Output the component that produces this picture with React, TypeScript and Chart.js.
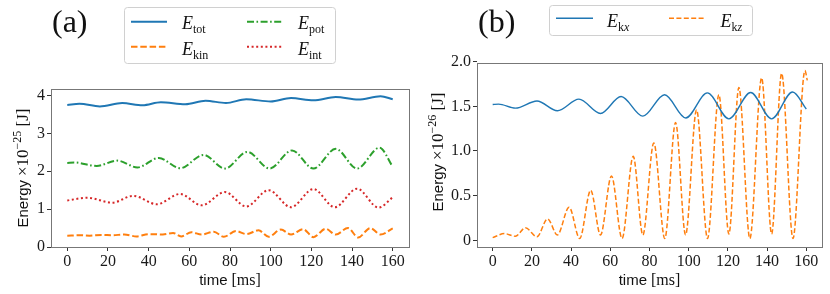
import React, { useEffect, useRef } from 'react';
import { Chart, registerables } from 'chart.js';
Chart.register(...registerables);

// ---------- shared ticks ----------
const timeTicks = [0, 20, 40, 60, 80, 100, 120, 140, 160];
const yTicksA = [0, 1, 2, 3, 4];
const yTickLabelsA = ['0', '1', '2', '3', '4'];
const yTicksB = [0, 0.5, 1, 1.5, 2];
const yTickLabelsB = ['0', '0.5', '1.0', '1.5', '2.0'];

// ---------- panel (a): energies ×1e-25 J ----------
const totT = [0, 6, 16, 27, 37, 46, 58, 68, 78, 88, 100, 110, 121, 132, 143, 154, 160];
const totE = [3.75, 3.78, 3.71, 3.8, 3.74, 3.82, 3.77, 3.86, 3.8, 3.9, 3.84, 3.93, 3.87, 3.96, 3.89, 3.98, 3.9];

const potT = [0, 3.5, 14.5, 24.5, 34.5, 45, 55.5, 67, 77.5, 88.5, 99.5, 110.5, 121, 132, 142.5, 153.5, 160];
const potE = [2.22, 2.23, 2.14, 2.28, 2.1, 2.35, 2.08, 2.43, 2.07, 2.51, 2.07, 2.55, 2.07, 2.59, 2.07, 2.62, 2.12];

const intT = [0, 10, 22, 32.5, 44, 55.5, 66, 77.5, 88, 99, 110, 121, 131.5, 142.5, 153, 160];
const intE = [1.23, 1.3, 1.17, 1.35, 1.13, 1.4, 1.1, 1.45, 1.07, 1.5, 1.05, 1.53, 1.05, 1.54, 1.04, 1.31];

const kinT = [0, 6, 11, 17, 22, 28, 34, 40, 47, 52, 56, 61, 66, 72, 77, 83, 88, 94, 99, 105, 110, 116, 121, 127, 132, 138, 143, 149, 154, 160];
const kinE = [0.3, 0.31, 0.3, 0.32, 0.31, 0.33, 0.28, 0.34, 0.33, 0.37, 0.28, 0.39, 0.33, 0.4, 0.27, 0.42, 0.34, 0.44, 0.27, 0.46, 0.33, 0.47, 0.26, 0.48, 0.33, 0.5, 0.25, 0.5, 0.33, 0.49];

// ---------- panel (b): energies ×1e-26 J ----------
const kxT = [0, 3, 11.6, 22.6, 33, 44, 55, 65.5, 76.6, 87.7, 98.5, 109.5, 120.5, 131.6, 142.3, 153, 160];
const kxE = [1.52, 1.525, 1.48, 1.56, 1.45, 1.58, 1.42, 1.61, 1.39, 1.63, 1.37, 1.65, 1.36, 1.655, 1.36, 1.66, 1.47];

const kzT = [0, 6, 11.6, 16.7, 22.6, 28, 33, 39, 44.4, 50, 55, 60.6, 66, 71.7, 76.6, 82.2, 87.8, 93.3, 98.4, 104, 109.6, 115.4, 120.5, 125.6, 131.2, 137.2, 142.3, 147.4, 153.2, 159.3, 160.5];
const kzE = [0.03, 0.075, 0.045, 0.14, 0.04, 0.24, 0.06, 0.37, 0.02, 0.56, 0.06, 0.72, 0.02, 0.94, 0.06, 1.09, 0.02, 1.32, 0.06, 1.46, 0.02, 1.63, 0.07, 1.71, 0.02, 1.82, 0.07, 1.87, 0.02, 1.9, 1.79];

const BLUE = '#1f77b4';
const ORANGE = '#ff7f0e';
const GREEN = '#2ca02c';
const RED = '#d62728';
const SERIF = '"Liberation Serif", "DejaVu Serif", serif';
const SANS = '"Liberation Sans", Arial, sans-serif';
const SPINE = '#777';

type Seg = { t: string; f: string; dy?: number };

function drawRich(ctx: CanvasRenderingContext2D, segs: Seg[], x: number, y: number, align: 'left' | 'center') {
  let w = 0;
  for (const s of segs) {
    ctx.font = s.f;
    w += ctx.measureText(s.t).width;
  }
  let cx = align === 'center' ? x - w / 2 : x;
  ctx.textAlign = 'left';
  ctx.textBaseline = 'alphabetic';
  for (const s of segs) {
    ctx.font = s.f;
    ctx.fillText(s.t, cx, y + (s.dy || 0));
    cx += ctx.measureText(s.t).width;
  }
}

function sampleLine(ctx: CanvasRenderingContext2D, x1: number, x2: number, y: number, color: string, dash: number[], lw: number) {
  ctx.save();
  ctx.strokeStyle = color;
  ctx.lineWidth = lw;
  ctx.setLineDash(dash);
  ctx.beginPath();
  ctx.moveTo(x1, y);
  ctx.lineTo(x2, y);
  ctx.stroke();
  ctx.restore();
}

function legendBox(ctx: CanvasRenderingContext2D, x: number, y: number, w: number, h: number) {
  ctx.save();
  ctx.fillStyle = 'rgba(255,255,255,0.8)';
  ctx.strokeStyle = '#d0d0d0';
  ctx.lineWidth = 1;
  ctx.beginPath();
  (ctx as any).roundRect(x + 0.5, y + 0.5, w, h, 3);
  ctx.fill();
  ctx.stroke();
  ctx.restore();
}

const eLabel = (sub: Seg[]): Seg[] => [{ t: 'E', f: `italic 18px ${SERIF}` }, ...sub];

function toXY(ts: number[], vs: number[]) {
  return ts.map((t, i) => ({ x: t, y: vs[i] }));
}

function yTitle(exp: string): Seg[] {
  return [
    { t: 'Energy', f: `15px ${SANS}` },
    { t: ' ', f: `16px ${SERIF}` },
    { t: '×', f: `17px ${SERIF}` },
    { t: '10', f: `17px ${SERIF}` },
    { t: exp, f: `12px ${SERIF}`, dy: -7 },
    { t: ' [J]', f: `17px ${SERIF}` },
  ];
}

function baseOptions(yMin: number, yMax: number, yTicks: number[], yLabels: string[], padding: any, yWidth: number) {
  return {
    animation: false as const,
    responsive: false,
    devicePixelRatio: 1,
    layout: { padding },
    plugins: { legend: { display: false }, tooltip: { enabled: false } },
    elements: { point: { radius: 0 } },
    scales: {
      x: {
        type: 'linear' as const,
        min: -8,
        max: 168,
        afterBuildTicks: (s: any) => {
          s.ticks = timeTicks.map((v) => ({ value: v }));
        },
        afterFit: (s: any) => {
          s.height = 47;
        },
        grid: { drawOnChartArea: false, drawTicks: true, tickLength: 4, tickColor: '#333', tickWidth: 1 },
        border: { display: false },
        ticks: {
          font: { family: SERIF, size: 16 },
          color: '#1a1a1a',
          padding: 1,
          maxRotation: 0,
          autoSkip: false,
          callback: (v: any) => String(v),
        },
      },
      y: {
        type: 'linear' as const,
        min: yMin,
        max: yMax,
        afterBuildTicks: (s: any) => {
          s.ticks = yTicks.map((v) => ({ value: v }));
        },
        afterFit: (s: any) => {
          s.width = yWidth;
        },
        grid: { drawOnChartArea: false, drawTicks: true, tickLength: 4, tickColor: '#333', tickWidth: 1 },
        border: { display: false },
        ticks: {
          font: { family: SERIF, size: 16 },
          color: '#1a1a1a',
          padding: 2,
          autoSkip: false,
          callback: (v: any) => {
            const i = yTicks.indexOf(Number(v));
            return i >= 0 ? yLabels[i] : '';
          },
        },
      },
    },
  };
}

function framePlugin(extra: (ctx: CanvasRenderingContext2D, chart: any) => void) {
  return {
    id: 'frameAndText',
    afterDraw(chart: any) {
      const ctx: CanvasRenderingContext2D = chart.ctx;
      const a = chart.chartArea;
      ctx.save();
      ctx.strokeStyle = SPINE;
      ctx.lineWidth = 1;
      ctx.setLineDash([]);
      ctx.strokeRect(Math.round(a.left) + 0.5, Math.round(a.top) + 0.5, Math.round(a.right - a.left), Math.round(a.bottom - a.top));
      ctx.fillStyle = '#111';
      extra(ctx, chart);
      ctx.restore();
    },
  };
}

function PanelA() {
  const ref = useRef<HTMLCanvasElement>(null);
  useEffect(() => {
    const chart = new Chart(ref.current!, {
      type: 'line',
      data: {
        datasets: [
          { data: toXY(totT, totE), borderColor: BLUE, borderWidth: 2, cubicInterpolationMode: 'monotone' },
          { data: toXY(kinT, kinE), borderColor: ORANGE, borderWidth: 2, borderDash: [6.5, 2.8], cubicInterpolationMode: 'monotone' },
          { data: toXY(potT, potE), borderColor: GREEN, borderWidth: 2, borderDash: [7, 2.5, 1.6, 2.5], cubicInterpolationMode: 'monotone' },
          { data: toXY(intT, intE), borderColor: RED, borderWidth: 2, borderDash: [2, 2.6], cubicInterpolationMode: 'monotone' },
        ],
      },
      options: baseOptions(0, 4.17, yTicksA, yTickLabelsA, { top: 89, left: 0, right: 6, bottom: 0 }, 51) as any,
      plugins: [
        framePlugin((ctx, chart) => {
          const a = chart.chartArea;
          ctx.save();
          ctx.translate(28, (a.top + a.bottom) / 2);
          ctx.rotate(-Math.PI / 2);
          drawRich(ctx, yTitle('−25'), 0, 0, 'center');
          ctx.restore();
          drawRich(ctx, [
            { t: 'time', f: `15px ${SANS}` },
            { t: ' [ms]', f: `16px ${SERIF}` },
          ], (a.left + a.right) / 2, 285, 'center');
          ctx.font = `32px ${SERIF}`;
          ctx.textBaseline = 'middle';
          ctx.textAlign = 'left';
          ctx.fillText('(a)', 52, 24);
          legendBox(ctx, 124, 7, 211, 56);
          sampleLine(ctx, 131, 167, 21.7, BLUE, [], 2);
          sampleLine(ctx, 247, 283, 21.7, GREEN, [7, 2.5, 1.6, 2.5], 2);
          sampleLine(ctx, 131, 167, 46.7, ORANGE, [6.5, 2.8], 2);
          sampleLine(ctx, 247, 283, 46.7, RED, [2, 2.6], 2);
          ctx.fillStyle = '#111';
          drawRich(ctx, eLabel([{ t: 'tot', f: `12px ${SERIF}`, dy: 4 }]), 182, 29, 'left');
          drawRich(ctx, eLabel([{ t: 'pot', f: `12px ${SERIF}`, dy: 4 }]), 298, 29, 'left');
          drawRich(ctx, eLabel([{ t: 'kin', f: `12px ${SERIF}`, dy: 4 }]), 182, 54.5, 'left');
          drawRich(ctx, eLabel([{ t: 'int', f: `12px ${SERIF}`, dy: 4 }]), 298, 54.5, 'left');
        }),
      ],
    });
    return () => chart.destroy();
  }, []);
  return <canvas ref={ref} width={415} height={294} style={{ width: 415, height: 294, display: 'block' }} />;
}

function PanelB() {
  const ref = useRef<HTMLCanvasElement>(null);
  useEffect(() => {
    const chart = new Chart(ref.current!, {
      type: 'line',
      data: {
        datasets: [
          { data: toXY(kxT, kxE), borderColor: BLUE, borderWidth: 1.4, cubicInterpolationMode: 'monotone' },
          { data: toXY(kzT, kzE), borderColor: ORANGE, borderWidth: 1.5, borderDash: [5, 2.4], cubicInterpolationMode: 'monotone' },
        ],
      },
      options: baseOptions(-0.075, 1.985, yTicksB, yTickLabelsB, { top: 63, left: 0, right: 8, bottom: 0 }, 62) as any,
      plugins: [
        framePlugin((ctx, chart) => {
          const a = chart.chartArea;
          ctx.save();
          ctx.translate(28, (a.top + a.bottom) / 2 - 3);
          ctx.rotate(-Math.PI / 2);
          drawRich(ctx, yTitle('−26'), 0, 0, 'center');
          ctx.restore();
          drawRich(ctx, [
            { t: 'time', f: `15px ${SANS}` },
            { t: ' [ms]', f: `16px ${SERIF}` },
          ], (a.left + a.right) / 2, 285, 'center');
          ctx.font = `32px ${SERIF}`;
          ctx.textBaseline = 'middle';
          ctx.textAlign = 'left';
          ctx.fillText('(b)', 63, 24);
          legendBox(ctx, 134, 5, 203, 30);
          sampleLine(ctx, 141, 178, 18.3, BLUE, [], 1.4);
          sampleLine(ctx, 254, 291, 18.3, ORANGE, [5, 2.4], 1.5);
          ctx.fillStyle = '#111';
          drawRich(ctx, eLabel([{ t: 'k', f: `12px ${SERIF}`, dy: 4 }, { t: 'x', f: `italic 12px ${SERIF}`, dy: 4 }]), 192, 27, 'left');
          drawRich(ctx, eLabel([{ t: 'k', f: `12px ${SERIF}`, dy: 4 }, { t: 'z', f: `italic 12px ${SERIF}`, dy: 4 }]), 305.5, 27, 'left');
        }),
      ],
    });
    return () => chart.destroy();
  }, []);
  return <canvas ref={ref} width={415} height={294} style={{ width: 415, height: 294, display: 'block' }} />;
}

export default function App() {
  return (
    <div style={{ position: 'absolute', left: 0, top: 0, width: 830, height: 294, background: '#fff', display: 'flex' }}>
      <PanelA />
      <PanelB />
    </div>
  );
}
